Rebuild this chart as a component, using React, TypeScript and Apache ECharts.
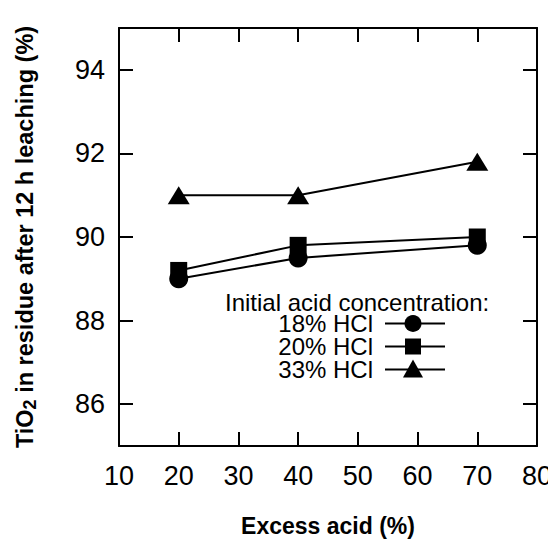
import React, { useEffect, useRef } from "react";
import * as echarts from "echarts";

const excessAcid = [20, 40, 70];
const hcl18 = [89.0, 89.5, 89.8];
const hcl20 = [89.2, 89.8, 90.0];
const hcl33 = [91.0, 91.0, 91.8];
const seriesNames = ["18% HCl", "20% HCl", "33% HCl"];
const symbols = ["circle", "rect", "triangle"];
const xTicks = [10, 20, 30, 40, 50, 60, 70, 80];
const yTicks = [86, 88, 90, 92, 94];
const legendTitle = "Initial acid concentration:";

export default function App() {
  const ref = useRef<HTMLDivElement>(null);
  useEffect(() => {
    const chart = echarts.init(ref.current!, null, { renderer: "svg" });
    const font = "'Liberation Sans', Arial, sans-serif";
    const datasets = [hcl18, hcl20, hcl33];
    const sizes: any[] = [19, 17, [22, 18]];
    const series: any[] = datasets.map((d, i) => ({
      name: seriesNames[i],
      type: "line",
      data: excessAcid.map((x, j) => [x, d[j]]),
      symbol: symbols[i],
      symbolSize: sizes[i],
      showSymbol: true,
      lineStyle: { color: "#000", width: 2 },
      itemStyle: { color: "#000" },
      z: 3,
    }));
    const ox = 8;
    const oy = 8;
    const legendX = 413 - ox;
    const rows = [323.5 - oy, 346.5 - oy, 369.5 - oy];
    const graphic: any[] = [
      {
        type: "text",
        x: 225 - ox,
        y: 302 - oy,
        style: {
          text: legendTitle,
          font: `24px ${font}`,
          fill: "#000",
          verticalAlign: "middle",
        },
      },
    ];
    rows.forEach((y, i) => {
      graphic.push({
        type: "text",
        x: 373 - ox,
        y,
        style: {
          text: seriesNames[i],
          font: `24px ${font}`,
          fill: "#000",
          align: "right",
          verticalAlign: "middle",
        },
      });
      graphic.push({
        type: "line",
        shape: { x1: 385 - ox, y1: y, x2: 445 - ox, y2: y },
        style: { stroke: "#000", lineWidth: 2 },
      });
      if (i === 0) {
        graphic.push({ type: "circle", shape: { cx: legendX, cy: y, r: 8.5 }, style: { fill: "#000" } });
      } else if (i === 1) {
        graphic.push({ type: "rect", shape: { x: legendX - 8, y: y - 8, width: 16, height: 16 }, style: { fill: "#000" } });
      } else {
        graphic.push({
          type: "polygon",
          shape: { points: [[legendX, y - 10], [legendX + 10, y + 8], [legendX - 10, y + 8]] },
          style: { fill: "#000" },
        });
      }
    });
    const tickStyle = { color: "#000", width: 2 };
    chart.setOption({
      animation: false,
      backgroundColor: "#fff",
      grid: { left: 111, right: 19, top: 20, bottom: 93, outerBoundsMode: "none", containLabel: false },
      xAxis: [
        {
          type: "value",
          min: 10,
          max: 80,
          interval: 10,
          name: "Excess acid (%)",
          nameLocation: "middle",
          nameGap: 68,
          nameTextStyle: { fontFamily: font, fontWeight: "bold", fontSize: 23, color: "#000" },
          axisLine: { show: true, lineStyle: { color: "#000", width: 2 } },
          axisTick: { show: true, inside: true, length: 14, lineStyle: tickStyle },
          axisLabel: { fontFamily: font, fontSize: 27, color: "#000", margin: 16, customValues: xTicks },
          splitLine: { show: false },
        },
        {
          type: "value",
          position: "top",
          min: 10,
          max: 80,
          interval: 10,
          axisLine: { show: true, lineStyle: { color: "#000", width: 2 } },
          axisTick: { show: true, inside: true, length: 14, lineStyle: tickStyle },
          axisLabel: { show: false },
          splitLine: { show: false },
        },
      ],
      yAxis: [
        {
          type: "value",
          min: 85,
          max: 95,
          interval: 1,
          name: "{b|TiO}{s|2}{b| in residue after 12 h leaching (%)}",
          nameLocation: "middle",
          nameGap: 80,
          nameTextStyle: {
            rich: {
              b: { fontFamily: font, fontWeight: "bold", fontSize: 23.5, color: "#000" },
              s: { fontFamily: font, fontWeight: "bold", fontSize: 18, color: "#000", padding: [10, 0, 0, 0] },
            },
          },
          axisLine: { show: true, lineStyle: { color: "#000", width: 2 } },
          axisTick: { show: true, inside: true, length: 14, customValues: yTicks, lineStyle: tickStyle },
          axisLabel: { fontFamily: font, fontSize: 27, color: "#000", margin: 14, customValues: yTicks },
          splitLine: { show: false },
        },
        {
          type: "value",
          position: "right",
          min: 85,
          max: 95,
          interval: 1,
          axisLine: { show: true, lineStyle: { color: "#000", width: 2 } },
          axisTick: { show: true, inside: true, length: 14, customValues: yTicks, lineStyle: tickStyle },
          axisLabel: { show: false },
          splitLine: { show: false },
        },
      ],
      series,
      graphic,
    });
    return () => chart.dispose();
  }, []);
  return <div ref={ref} style={{ width: 548, height: 531 }} />;
}
